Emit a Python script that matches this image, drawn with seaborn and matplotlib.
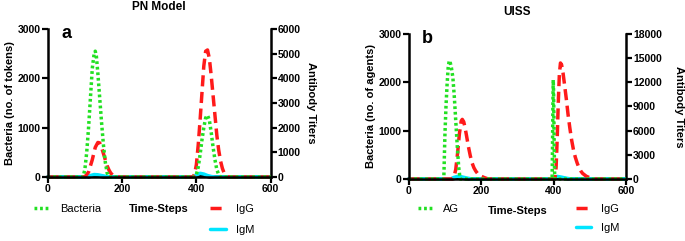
import numpy as np
import pandas as pd
import matplotlib
matplotlib.use("Agg")
import matplotlib.pyplot as plt
import seaborn as sns
from matplotlib.lines import Line2D

sns.set_theme(style="ticks")
plt.rcParams['font.family'] = ['Liberation Sans', 'DejaVu Sans']
plt.rcParams['text.color'] = 'black'
plt.rcParams['axes.labelcolor'] = 'black'
plt.rcParams['xtick.color'] = 'black'
plt.rcParams['ytick.color'] = 'black'

# ---------------- Panel a : PN Model ----------------
a_bact_t = [0, 95, 100, 105, 110, 115, 120, 125, 128, 131, 135, 140, 145, 150, 155, 160, 165,
            395, 400, 405, 410, 415, 420, 425, 430, 435, 440, 445, 450, 455, 460, 465, 600]
a_bact_v = [0, 0, 150, 500, 1000, 1600, 2200, 2500, 2550, 2450, 2100, 1600, 1100, 650, 300, 80, 0,
            0, 50, 200, 450, 750, 1000, 1200, 1250, 1150, 900, 600, 350, 150, 50, 0, 0]

a_igg_t = [0, 100, 110, 120, 128, 135, 140, 145, 150, 155, 160, 165, 170, 175, 180, 190,
           390, 395, 400, 405, 410, 415, 420, 425, 430, 435, 440, 445, 450, 455, 460, 465, 470, 475, 480, 485, 600]
a_igg_v = [0, 0, 200, 700, 1200, 1400, 1380, 1200, 950, 700, 450, 280, 150, 80, 40, 0,
           0, 100, 500, 1300, 2300, 3400, 4500, 5100, 5150, 4800, 4100, 3300, 2500, 1700, 1100, 650, 350, 150, 50, 0, 0]

a_igm_t = [0, 105, 115, 125, 135, 145, 155, 165, 175, 390, 400, 410, 420, 430, 440, 450, 600]
a_igm_v = [0, 0, 60, 100, 90, 60, 30, 10, 0, 0, 80, 150, 120, 60, 20, 0, 0]

a_oth_t = [0, 110, 120, 130, 140, 150, 395, 405, 415, 425, 435, 600]
a_oth_v = [0, 0, 40, 50, 30, 0, 0, 60, 70, 40, 0, 0]

# ---------------- Panel b : UISS ----------------
b_ag_t = [0, 97, 98, 100, 103, 106, 109, 112, 115, 118, 122, 126, 130, 134, 138, 142,
          396, 397, 398, 399, 400, 401, 402, 403, 404, 600]
b_ag_v = [0, 0, 300, 900, 1500, 1950, 2300, 2450, 2400, 2300, 2100, 1700, 1200, 700, 250, 0,
          0, 600, 1400, 2050, 1800, 1200, 500, 100, 0, 0]

b_igg_t = [0, 120, 125, 130, 135, 140, 145, 148, 152, 156, 160, 165, 170, 175, 180, 185, 190, 195, 200, 210, 220,
           400, 404, 407, 410, 413, 416, 419, 422, 426, 430, 435, 440, 445, 450, 455, 460, 465, 470, 475, 480, 490,
           500, 510, 600]
b_igg_v = [0, 0, 200, 1200, 3200, 5600, 7200, 7400, 7100, 6300, 5300, 4000, 2900, 2000, 1400, 1000, 700, 500, 350, 150, 0,
           0, 0, 1500, 5000, 9500, 13000, 14400, 14200, 13200, 11800, 10000, 8000, 6300, 4800, 3600, 2700, 2000, 1400,
           1000, 700, 350, 150, 0, 0]

b_igm_t = [0, 115, 125, 135, 145, 155, 165, 175, 400, 405, 410, 420, 430, 440, 450, 600]
b_igm_v = [0, 0, 200, 320, 280, 180, 80, 0, 0, 150, 320, 250, 150, 60, 0, 0]

b_oth_t = [0, 120, 130, 140, 150, 160, 400, 410, 420, 430, 440, 600]
b_oth_v = [0, 0, 100, 150, 80, 0, 0, 150, 130, 60, 0, 0]

xticks = [0, 200, 400, 600]
a_left_ticks = [0, 1000, 2000, 3000]
a_right_ticks = [0, 1000, 2000, 3000, 4000, 5000, 6000]
b_left_ticks = [0, 1000, 2000, 3000]
b_right_ticks = [0, 3000, 6000, 9000, 12000, 15000, 18000]

GREEN = "#22e022"
RED = "#ff1a1a"
CYAN = "#00e5ff"
LW = 2.5
DOT = (0, (0.8, 0.8))
DASH = (0, (3.2, 1.6))

fig = plt.figure(figsize=(6.85, 2.41), dpi=100)

TF = dict(fontsize=7.5, fontweight="bold", color="black")


def style_axes(ax, ax2, xt, lt, rt, ylab, rpad):
    for a in (ax, ax2):
        a.spines["top"].set_visible(False)
        for s in a.spines.values():
            s.set_linewidth(1.8)
            s.set_color("black")
    ax.spines["right"].set_visible(False)
    ax2.spines["left"].set_visible(False)
    ax2.spines["bottom"].set_visible(False)
    ax.set_xlim(0, 600)
    ax.set_xticks(xt)
    ax.set_xticklabels([str(v) for v in xt], **TF)
    ax.set_yticks(lt)
    ax.set_yticklabels([str(v) for v in lt], **TF)
    ax.set_ylim(0, lt[-1])
    ax2.set_ylim(0, rt[-1])
    ax2.set_yticks(rt)
    ax2.set_yticklabels([str(v) for v in rt], **TF)
    for a in (ax, ax2):
        a.tick_params(axis="both", direction="out", length=4, width=1.6, pad=1, color="black")
    ax.set_ylabel(ylab, fontsize=8, fontweight="bold", labelpad=2)
    ax2.set_ylabel("Antibody Titers", fontsize=8, fontweight="bold", rotation=-90, labelpad=rpad)
    ax.set_xlabel("Time-Steps", fontsize=8, fontweight="bold", labelpad=7)


def panel(rect, bt, bv, gt, gv, mt, mv, ot, ov, lt, rt, ylab, title, letter, blabel,
          anchor, colsp, lsp, rpad):
    ax = fig.add_axes(rect)
    ax2 = ax.twinx()
    ax.patch.set_visible(False)
    sns.lineplot(x=bt, y=bv, ax=ax, color=GREEN, linestyle=DOT, linewidth=LW)
    sns.lineplot(x=ot, y=ov, ax=ax2, color="black", linewidth=LW)
    sns.lineplot(x=mt, y=mv, ax=ax2, color=CYAN, linewidth=LW)
    sns.lineplot(x=gt, y=gv, ax=ax2, color=RED, linestyle=DASH, linewidth=LW)
    for a in (ax, ax2):
        for ln in a.get_lines():
            ln.set_clip_on(False)
    ax.set_zorder(ax2.get_zorder() + 1)
    style_axes(ax, ax2, xticks, lt, rt, ylab, rpad)
    ax.set_title(title, fontsize=8.5, fontweight="bold", pad=14)
    ax.text(0.06, 1.03, letter, transform=ax.transAxes, fontsize=13, fontweight="bold", va="top")
    handles = [Line2D([], [], color=GREEN, linestyle=DOT, linewidth=LW),
               Line2D([], [], color="none"),
               Line2D([], [], color=RED, linestyle=DASH, linewidth=LW),
               Line2D([], [], color=CYAN, linewidth=LW)]
    labels = [blabel, "", "IgG", "IgM"]
    ax.legend(handles, labels, ncol=2, frameon=False, fontsize=8,
              loc="upper left", bbox_to_anchor=anchor,
              handlelength=1.4, columnspacing=colsp,
              labelspacing=lsp, handletextpad=0.9)
    return ax, ax2


panel([0.0696, 0.2656, 0.3256, 0.6141], a_bact_t, a_bact_v, a_igg_t, a_igg_v, a_igm_t, a_igm_v,
      a_oth_t, a_oth_v, a_left_ticks, a_right_ticks, "Bacteria (no. of tokens)", "PN Model", "a", "Bacteria",
      (-0.104, -0.115), 9.8, 1.0, 11)
panel([0.5966, 0.2573, 0.3173, 0.6017], b_ag_t, b_ag_v, b_igg_t, b_igg_v, b_igm_t, b_igm_v,
      b_oth_t, b_oth_v, b_left_ticks, b_right_ticks, "Bacteria (no. of agents)", "UISS", "b", "AG",
      (-0.005, -0.103), 10.5, 0.85, 16)

fig.savefig("out.png", dpi=100)
